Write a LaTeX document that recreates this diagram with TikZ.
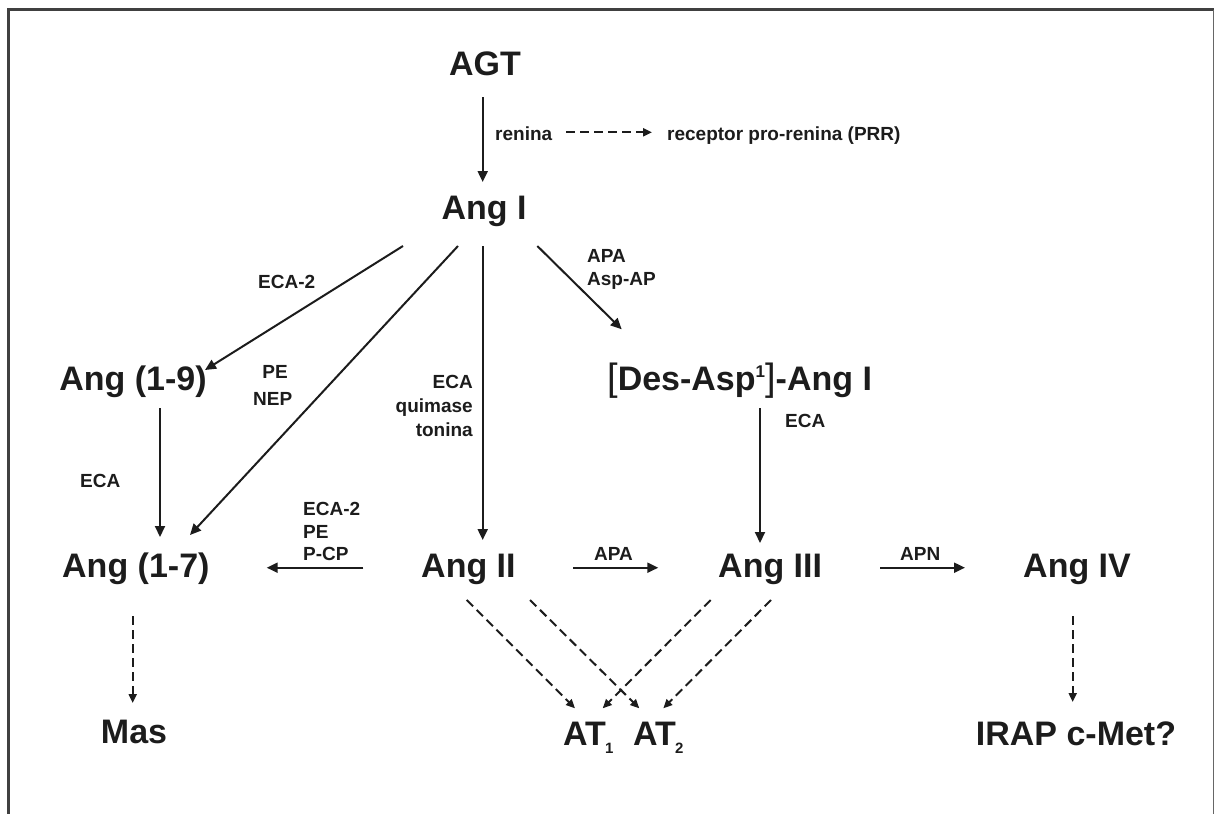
\documentclass[tikz,border=0pt]{standalone}
\usepackage{fontspec}
\setmainfont{Liberation Sans}
\usetikzlibrary{arrows.meta}
\definecolor{ink}{HTML}{1C1C1C}
\definecolor{framec}{HTML}{404040}
\tikzset{
  big/.style={font=\fontsize{34}{36}\selectfont\bfseries, text=ink, inner sep=0pt},
  small/.style={font=\fontsize{19}{21}\selectfont\bfseries, text=ink, inner sep=0pt},
  solidarrow/.style={draw=ink, line width=2pt, -{Triangle[length=11pt,width=10pt]}},
  dasharrow/.style={draw=ink, line width=2pt, dash pattern=on 9pt off 5pt, -{Triangle[length=9pt,width=8pt]}},
}
\newcommand{\subnum}[1]{\kern-1pt\raisebox{-8pt}{\fontsize{15}{15}\selectfont #1}}
\begin{document}
\begin{tikzpicture}[x=1pt,y=-1pt]
\useasboundingbox (0,0) rectangle (1219,814);
% frame
\draw[framec, line width=3pt] (8.7,814) -- (8.7,9.5) -- (1213.5,9.5);
\draw[framec!80, line width=1.6pt] (1213.5,9.5) -- (1213.5,814);

% main nodes
\node[big, anchor=base] (agt) at (485,75) {AGT};
\node[big, anchor=base] (angI) at (484,219) {Ang I};
\node[big, anchor=base] (ang19) at (133,390) {Ang (1-9)};
\node[big, anchor=base west] (des) at (607,390) {{\mdseries\fontsize{38}{38}\selectfont[}Des-Asp\raisebox{13pt}{\fontsize{17}{17}\selectfont 1}{\mdseries\fontsize{38}{38}\selectfont]}-Ang I};
\node[big, anchor=base west] (ang17) at (62,577) {Ang (1-7)};
\node[big, anchor=base west] (angII) at (421,577) {Ang II};
\node[big, anchor=base west] (angIII) at (718,577) {Ang III};
\node[big, anchor=base west] (angIV) at (1023,577) {Ang IV};
\node[big, anchor=base] (mas) at (134,743) {Mas};
\node[big, anchor=base west] (at1) at (563,745) {AT\subnum{1}};
\node[big, anchor=base west] (at2) at (633,745) {AT\subnum{2}};
\node[big, anchor=base] (irap) at (1076,745) {IRAP c-Met?};
\node[small, anchor=base west] (prr) at (667,140) {receptor pro-renina (PRR)};

% labels
\node[small, anchor=base west] (lrenina) at (495,140) {renina};
\node[small, anchor=base west] (lapa1) at (587,262) {APA};
\node[small, anchor=base west] (laspap) at (587,285) {Asp-AP};
\node[small, anchor=base east] (leca1) at (473,388) {ECA};
\node[small, anchor=base east] (lquim) at (473,412) {quimase};
\node[small, anchor=base east] (lton) at (473,436) {tonina};
\node[small, anchor=base west] (leca2a) at (258,288) {ECA-2};
\node[small, anchor=base] (lpe1) at (275,378) {PE};
\node[small, anchor=base west] (lnep) at (253,405) {NEP};
\node[small, anchor=base west] (leca3) at (80,487) {ECA};
\node[small, anchor=base west] (leca2b) at (303,515) {ECA-2};
\node[small, anchor=base west] (lpe2) at (303,538) {PE};
\node[small, anchor=base west] (lpcp) at (303,560) {P-CP};
\node[small, anchor=base west] (lapa2) at (594,560) {APA};
\node[small, anchor=base west] (leca4) at (785,427) {ECA};
\node[small, anchor=base west] (lapn) at (900,560) {APN};

% connector end points
\coordinate (agtS) at (482.7,97);
\coordinate (angIN) at (482.7,182);
\coordinate (reninaE) at (566,132.3);
\coordinate (prrW) at (652,132.3);
\coordinate (angIa) at (403,246);
\coordinate (ang19NE) at (205,370);
\coordinate (angIb) at (458,246);
\coordinate (ang17NE) at (190,535);
\coordinate (angIc) at (482.7,246);
\coordinate (angIIN) at (482.7,540);
\coordinate (angId) at (537.3,246);
\coordinate (desNW) at (621.7,329.3);
\coordinate (ang19S) at (160,408);
\coordinate (ang17N) at (160,537);
\coordinate (desS) at (760,408);
\coordinate (angIIIN) at (760,543);
\coordinate (angIIW) at (363.3,567.7);
\coordinate (ang17E) at (266.7,567.7);
\coordinate (angIIE) at (573.3,567.7);
\coordinate (angIIIW) at (658.3,567.7);
\coordinate (angIIIE) at (880,567.7);
\coordinate (angIVW) at (965,567.7);
\coordinate (ang17S) at (132.7,616);
\coordinate (masN) at (132.7,703);
\coordinate (angIVS) at (1072.7,616);
\coordinate (irapN) at (1072.7,702);
\coordinate (angIIa) at (466.7,600);
\coordinate (angIIb) at (530,600);
\coordinate (angIIIa) at (710.7,600);
\coordinate (angIIIb) at (771,600);
\coordinate (at1a) at (575,708.3);
\coordinate (at1b) at (602.7,708.3);
\coordinate (at2a) at (639.3,708.3);
\coordinate (at2b) at (663.3,708.3);

% connectors
\draw[solidarrow] (agtS) -- (angIN);
\draw[dasharrow] (reninaE) -- (prrW);
\draw[solidarrow] (angIa) -- (ang19NE);
\draw[solidarrow] (angIb) -- (ang17NE);
\draw[solidarrow] (angIc) -- (angIIN);
\draw[solidarrow] (angId) -- (desNW);
\draw[solidarrow] (ang19S) -- (ang17N);
\draw[solidarrow] (desS) -- (angIIIN);
\draw[solidarrow] (angIIW) -- (ang17E);
\draw[solidarrow] (angIIE) -- (angIIIW);
\draw[solidarrow] (angIIIE) -- (angIVW);
\draw[dasharrow] (ang17S) -- (masN);
\draw[dasharrow] (angIVS) -- (irapN);
\draw[dasharrow] (angIIa) -- (at1a);
\draw[dasharrow] (angIIb) -- (at2a);
\draw[dasharrow] (angIIIa) -- (at1b);
\draw[dasharrow] (angIIIb) -- (at2b);
\end{tikzpicture}
\end{document}
